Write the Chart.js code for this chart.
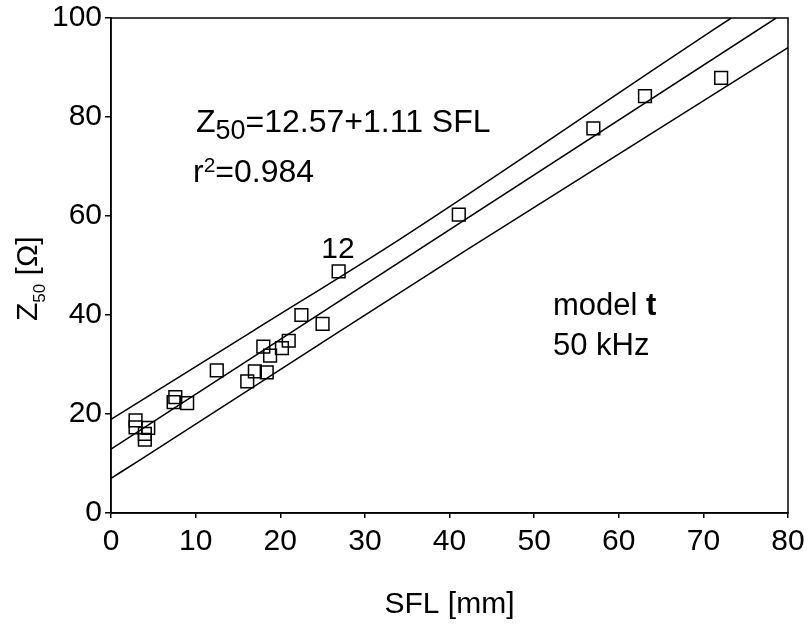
<!DOCTYPE html>
<html>
<head>
<meta charset="utf-8">
<script src="https://cdn.jsdelivr.net/npm/chart.js@4.4.1/dist/chart.umd.min.js"></script>
<style>
body { margin: 0; background: #fff; }
</style>
</head>
<body>
<canvas id="chart" width="810" height="628"></canvas>
<script>
const FONT = '"Liberation Sans", Arial, sans-serif';

// tick labels
const xTicks = [0, 10, 20, 30, 40, 50, 60, 70, 80];
const yTicks = [0, 20, 40, 60, 80, 100];

// measured points, SFL [mm] vs Z50 [ohm]
const sfl = [2.9, 2.9, 4.4, 4.0, 4.0, 7.6, 7.4, 9.0, 12.5, 16.1, 17.0, 18.4, 18.0, 18.8, 20.2, 21.0, 22.5, 25.0, 26.9, 41.1, 57.0, 63.1, 72.1];
const z50 = [18.7, 17.3, 17.2, 16.0, 14.8, 23.4, 22.4, 22.2, 28.8, 26.6, 28.6, 28.4, 33.6, 31.8, 33.3, 34.8, 40.0, 38.2, 48.8, 60.3, 77.7, 84.2, 87.9];

// regression line and band
const fitX = [0, 78.6];
const fitY = [12.9, 100];
const upperX = [0, 16.8, 34.2, 67.3, 73.3];
const upperY = [18.9, 36.8, 55.4, 93.2, 100];
const lowerX = [0, 3.4, 27.1, 41.8, 80];
const lowerY = [7.0, 10.7, 36.8, 52.9, 94.0];

function pts(xs, ys) {
    return xs.map((x, i) => ({x: x, y: ys[i]}));
}

function lineSet(xs, ys) {
    return {
        type: "line",
        data: pts(xs, ys),
        borderColor: "#000",
        borderWidth: 1.5,
        pointRadius: 0,
        fill: false,
        cubicInterpolationMode: "monotone"
    };
}

// draws the frame and the texts with sub/superscripts
const textPlugin = {
    id: "texts",
    afterDraw(chart) {
        const ctx = chart.ctx;
        const a = chart.chartArea;
        ctx.save();
        ctx.strokeStyle = "#000";
        ctx.lineWidth = 1.5;
        ctx.strokeRect(a.left, a.top, a.right - a.left, a.bottom - a.top);

        ctx.fillStyle = "#000";
        ctx.textBaseline = "alphabetic";
        ctx.textAlign = "left";

        // equation
        let x = 196;
        ctx.font = "32px " + FONT;
        ctx.fillText("Z", x, 132);
        x += ctx.measureText("Z").width;
        ctx.font = "27px " + FONT;
        ctx.fillText("50", x, 139);
        x += ctx.measureText("50").width;
        ctx.font = "32px " + FONT;
        ctx.fillText("=12.57+1.11 SFL", x, 132);

        // r squared
        x = 193;
        ctx.fillText("r", x, 182);
        x += ctx.measureText("r").width;
        ctx.font = "21px " + FONT;
        ctx.fillText("2", x, 172);
        x += ctx.measureText("2").width;
        ctx.font = "32px " + FONT;
        ctx.fillText("=0.984", x, 182);

        // point label
        ctx.font = "30px " + FONT;
        ctx.textAlign = "center";
        ctx.fillText("12", 338, 258);

        // model text
        ctx.textAlign = "left";
        ctx.font = "31px " + FONT;
        ctx.fillText("model ", 553, 315);
        let w = ctx.measureText("model ").width;
        ctx.font = "bold 31px " + FONT;
        ctx.fillText("t", 553 + w, 315);
        ctx.font = "31px " + FONT;
        ctx.fillText("50 kHz", 553, 355);

        // y axis title
        ctx.translate(37, 321);
        ctx.rotate(-Math.PI / 2);
        x = 0;
        ctx.font = "30px " + FONT;
        ctx.fillText("Z", x, 0);
        x += ctx.measureText("Z").width;
        ctx.font = "17px " + FONT;
        ctx.fillText("50", x, 8);
        x += ctx.measureText("50").width;
        ctx.font = "30px " + FONT;
        ctx.fillText(" [\u03A9]", x, 0);
        ctx.restore();
    }
};

const tickFont = {family: FONT, size: 30, lineHeight: 1};

new Chart(document.getElementById("chart").getContext("2d"), {
    type: "scatter",
    data: {
        datasets: [
            {
                data: pts(sfl, z50),
                pointStyle: "rect",
                pointRadius: 9,
                pointHoverRadius: 9,
                borderColor: "#000",
                borderWidth: 1.5,
                backgroundColor: "rgba(0,0,0,0)"
            },
            lineSet(fitX, fitY),
            lineSet(upperX, upperY),
            lineSet(lowerX, lowerY)
        ]
    },
    options: {
        responsive: false,
        animation: false,
        layout: {padding: {top: 16, right: 22, left: 0, bottom: 0}},
        plugins: {
            legend: {display: false},
            tooltip: {enabled: false}
        },
        scales: {
            x: {
                type: "linear",
                min: 0,
                max: 80,
                afterBuildTicks: (s) => { s.ticks = xTicks.map(v => ({value: v})); },
                afterFit: (s) => { s.height = 115; s.paddingRight = 0; s.paddingLeft = 0; },
                ticks: {color: "#000", font: tickFont, padding: 9, maxRotation: 0},
                grid: {drawOnChartArea: false, color: "#000", lineWidth: 1.5, tickLength: 5},
                border: {color: "#000", width: 1.5},
                title: {
                    display: true,
                    text: "SFL [mm]",
                    color: "#000",
                    font: {family: FONT, size: 30, lineHeight: 1.2},
                    padding: {top: 0, bottom: 5}
                }
            },
            y: {
                type: "linear",
                min: 0,
                max: 100,
                afterBuildTicks: (s) => { s.ticks = yTicks.map(v => ({value: v})); },
                afterFit: (s) => { s.width = 111; },
                ticks: {color: "#000", font: tickFont, padding: 3},
                grid: {drawOnChartArea: false, color: "#000", lineWidth: 1.5, tickLength: 6},
                border: {color: "#000", width: 1.5}
            }
        }
    },
    plugins: [textPlugin]
});
</script>
</body>
</html>
